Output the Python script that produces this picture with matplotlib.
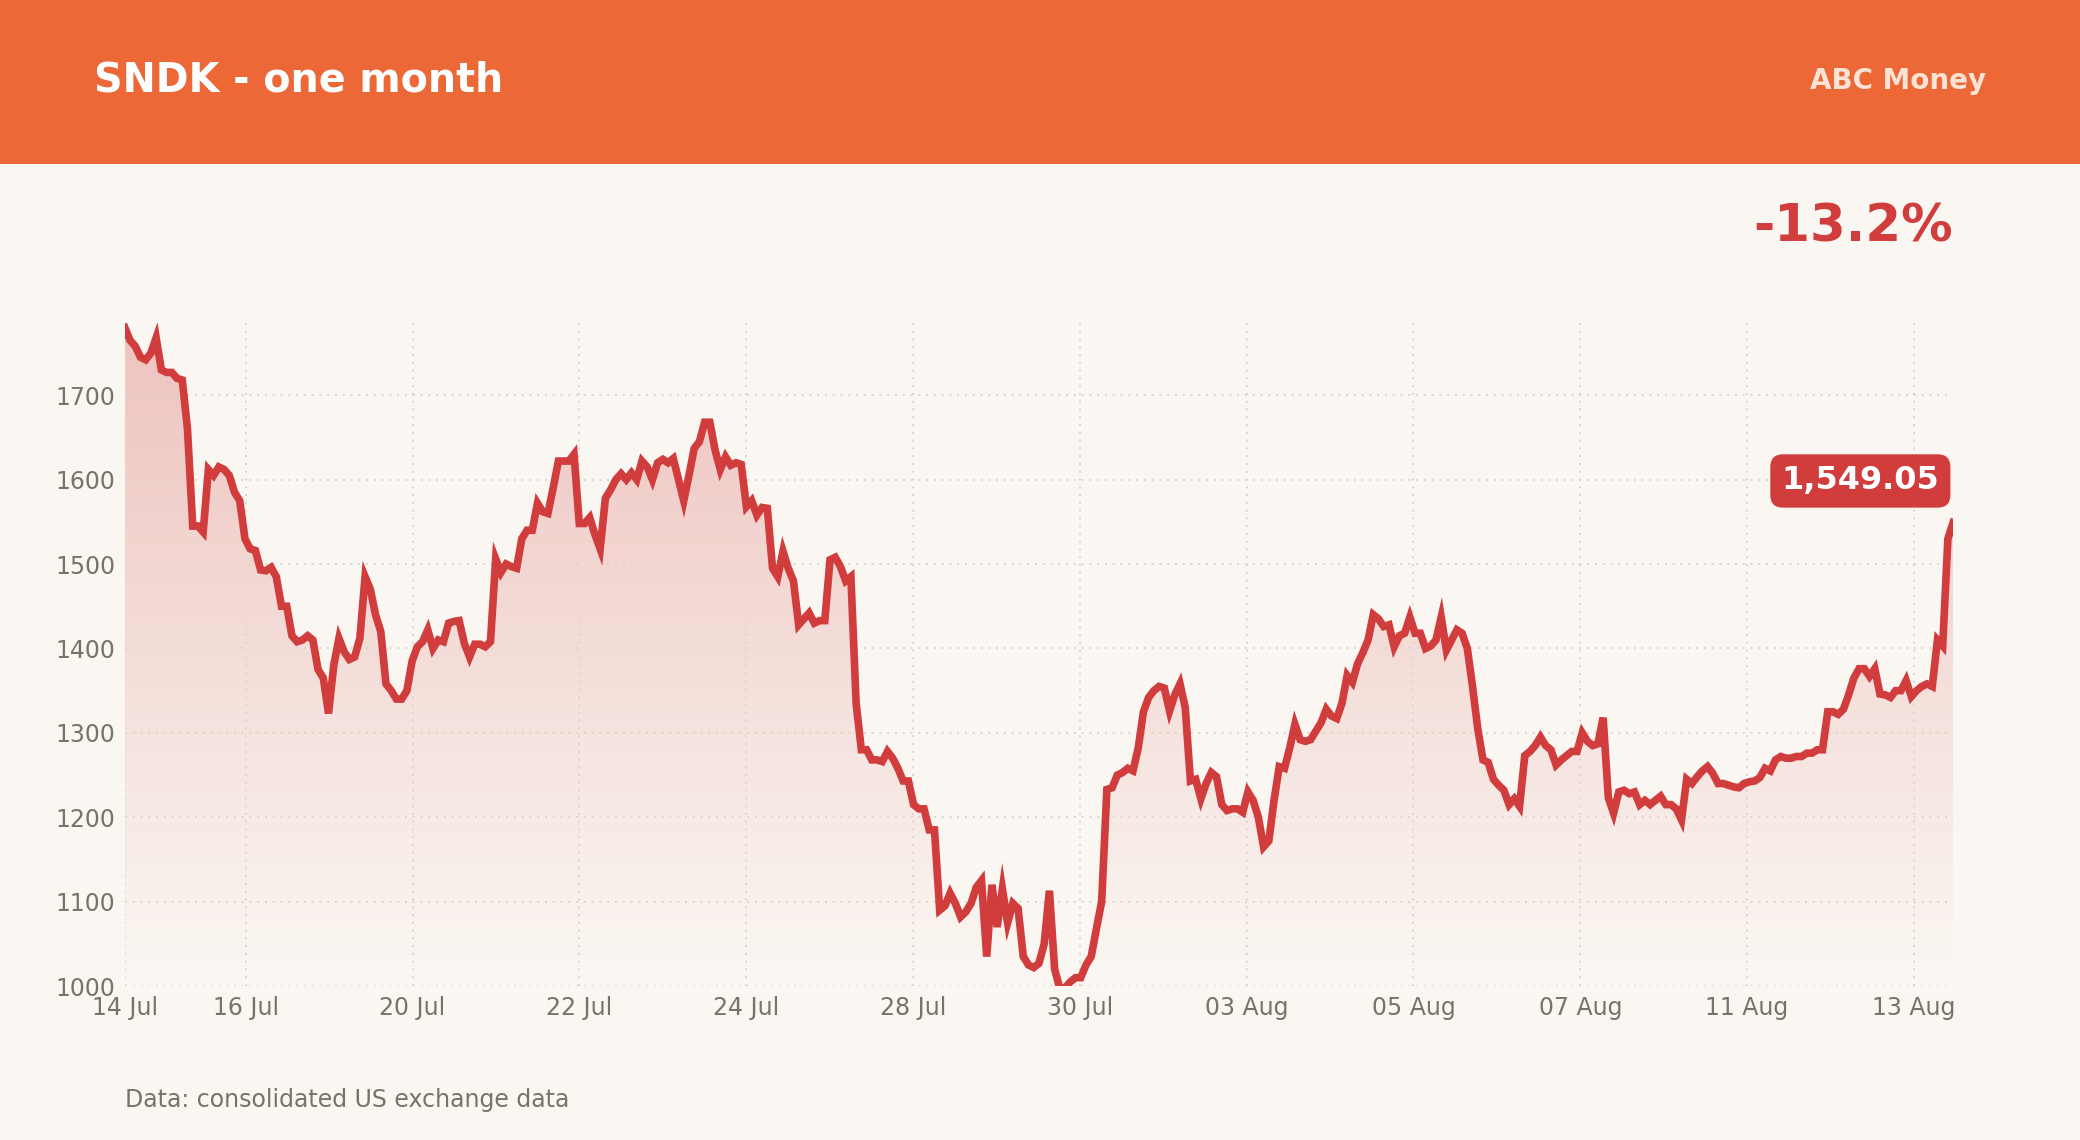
import matplotlib.pyplot as plt
import numpy as np
from matplotlib.patches import Rectangle, Polygon

# ---------------------------------------------------------------------------
# Data (one sample ~ every 15 trading minutes)
# ---------------------------------------------------------------------------
prices = [
    1780, 1765, 1758, 1745, 1742, 1750, 1768, 1730, 1727, 1727, 1720, 1718, 1660, 1545, 1545, 1538,
    1612, 1605, 1615, 1612, 1605, 1585, 1575, 1530, 1518, 1516, 1493, 1492, 1496, 1485, 1450, 1450,
    1415, 1408, 1410, 1415, 1410, 1375, 1365, 1323, 1380, 1412, 1396, 1387, 1390, 1412, 1485, 1470,
    1440, 1420, 1358, 1350, 1340, 1340, 1350, 1385, 1402, 1408, 1422, 1400, 1410, 1408, 1430, 1432,
    1433, 1406, 1390, 1405, 1405, 1402, 1408, 1506, 1490, 1500, 1497, 1495, 1530, 1540, 1540, 1572,
    1562, 1560, 1590, 1622, 1622, 1622, 1630, 1548, 1548, 1555, 1535, 1518, 1578, 1588, 1600, 1607,
    1600, 1608, 1600, 1622, 1615, 1600, 1620, 1624, 1620, 1625, 1600, 1575, 1605, 1637, 1645, 1668,
    1668, 1635, 1612, 1627, 1617, 1620, 1618, 1568, 1575, 1558, 1567, 1566, 1495, 1485, 1515, 1495,
    1480, 1428, 1435, 1442, 1430, 1433, 1433, 1505, 1508, 1497, 1480, 1485, 1335, 1280, 1280, 1268,
    1268, 1266, 1278, 1270, 1258, 1243, 1243, 1215, 1210, 1210, 1185, 1185, 1090, 1095, 1110, 1098,
    1082, 1088, 1098, 1117, 1125, 1035, 1120, 1070, 1115, 1075, 1098, 1092, 1035, 1025, 1022, 1027,
    1050, 1113, 1020, 997, 998, 1005, 1010, 1010, 1025, 1035, 1068, 1100, 1233, 1235, 1250, 1253,
    1258, 1255, 1282, 1325, 1342, 1350, 1355, 1353, 1326, 1345, 1358, 1330, 1243, 1245, 1222, 1240,
    1253, 1248, 1215, 1208, 1210, 1210, 1206, 1230, 1220, 1200, 1165, 1172, 1220, 1260, 1258, 1282,
    1310, 1292, 1290, 1292, 1302, 1312, 1328, 1320, 1317, 1335, 1368, 1360, 1382, 1395, 1410, 1440,
    1435, 1426, 1428, 1402, 1415, 1418, 1437, 1418, 1418, 1400, 1403, 1410, 1437, 1398, 1410, 1422,
    1418, 1400, 1355, 1305, 1268, 1265, 1245, 1238, 1232, 1215, 1222, 1213, 1273, 1278, 1285, 1295,
    1285, 1280, 1262, 1268, 1273, 1278, 1278, 1300, 1290, 1285, 1287, 1318, 1223, 1205, 1230, 1232,
    1228, 1230, 1215, 1220, 1215, 1220, 1225, 1215, 1215, 1210, 1197, 1245, 1240, 1248, 1255, 1260,
    1252, 1240, 1240, 1238, 1236, 1235, 1240, 1242, 1243, 1247, 1258, 1255, 1268, 1272, 1270, 1270,
    1272, 1272, 1276, 1276, 1280, 1280, 1325, 1325, 1322, 1328, 1345, 1365, 1376, 1376, 1367, 1376,
    1346, 1345, 1342, 1350, 1350, 1362, 1343, 1350, 1355, 1358, 1355, 1410, 1403, 1530, 1549.05,
]
span_days = 21.92          # trading days covered by the series
tick_days = [0, 1.45, 3.45, 5.45, 7.45, 9.45, 11.45, 13.45, 15.45, 17.45, 19.45, 21.45]
tick_labels = ["14 Jul", "16 Jul", "20 Jul", "22 Jul", "24 Jul", "28 Jul",
               "30 Jul", "03 Aug", "05 Aug", "07 Aug", "11 Aug", "13 Aug"]
y_ticks = [1000, 1100, 1200, 1300, 1400, 1500, 1600, 1700]
change_pct = -13.2

ORANGE = "#EC6836"
BG = "#FAF7F2"
RED = "#D13C3C"
GREY = "#7A7266"

x = np.linspace(0, span_days, len(prices))
y = np.array(prices)
ymin, ymax = 1000, 1786

fig = plt.figure(figsize=(20.8, 11.4), dpi=100, facecolor=BG)

# header band
fig.patches.append(Rectangle((0, 0.856), 1, 0.144, transform=fig.transFigure,
                             facecolor=ORANGE, edgecolor="none", zorder=0))
fig.text(0.045, 0.929, "SNDK - one month", color="white", fontsize=28.5,
         fontweight="bold", va="center", ha="left")
fig.text(0.955, 0.929, "ABC Money", color="#FCE3D6", fontsize=20,
         fontweight="bold", va="center", ha="right")
fig.text(0.939, 0.80, f"{change_pct:.1f}%", color=RED, fontsize=37,
         fontweight="bold", va="center", ha="right")
fig.text(0.06, 0.035, "Data: consolidated US exchange data", color=GREY,
         fontsize=17, va="center", ha="left")

ax = fig.add_axes([0.06, 0.135, 0.879, 0.582])
ax.set_facecolor(BG)

# gradient fill under the line
grad = np.linspace(0, 1, 256).reshape(-1, 1)
cmap = plt.matplotlib.colors.LinearSegmentedColormap.from_list(
    "fade", [(0.82, 0.24, 0.24, 0.0), (0.82, 0.24, 0.24, 0.28)])
im = ax.imshow(grad, aspect="auto", cmap=cmap, origin="lower",
               extent=[x[0], x[-1], ymin, y.max()], zorder=1)
poly = Polygon(np.column_stack([np.r_[x, x[-1], x[0]], np.r_[y, ymin, ymin]]),
               closed=True, facecolor="none", edgecolor="none")
ax.add_patch(poly)
im.set_clip_path(poly)

ax.plot(x, y, color=RED, lw=5.5, solid_joinstyle="miter", zorder=3)

ax.set_xlim(0, span_days)
ax.set_ylim(ymin, ymax)
ax.set_xticks(tick_days)
ax.set_xticklabels(tick_labels)
ax.set_yticks(y_ticks)
ax.grid(True, color="#DDD5CB", linestyle=(0, (1, 3)), lw=1.4)
ax.tick_params(length=0, labelsize=17, labelcolor=GREY, pad=7)
for s in ax.spines.values():
    s.set_visible(False)

ax.annotate(f"{prices[-1]:,.2f}", xy=(x[-1], prices[-1]), xytext=(-10, 30),
            textcoords="offset points", ha="right", va="center",
            fontsize=23, fontweight="bold", color="white",
            bbox=dict(boxstyle="round,pad=0.35,rounding_size=0.4", fc=RED, ec="none"))

fig.savefig("out.png", dpi=100, facecolor=BG)
